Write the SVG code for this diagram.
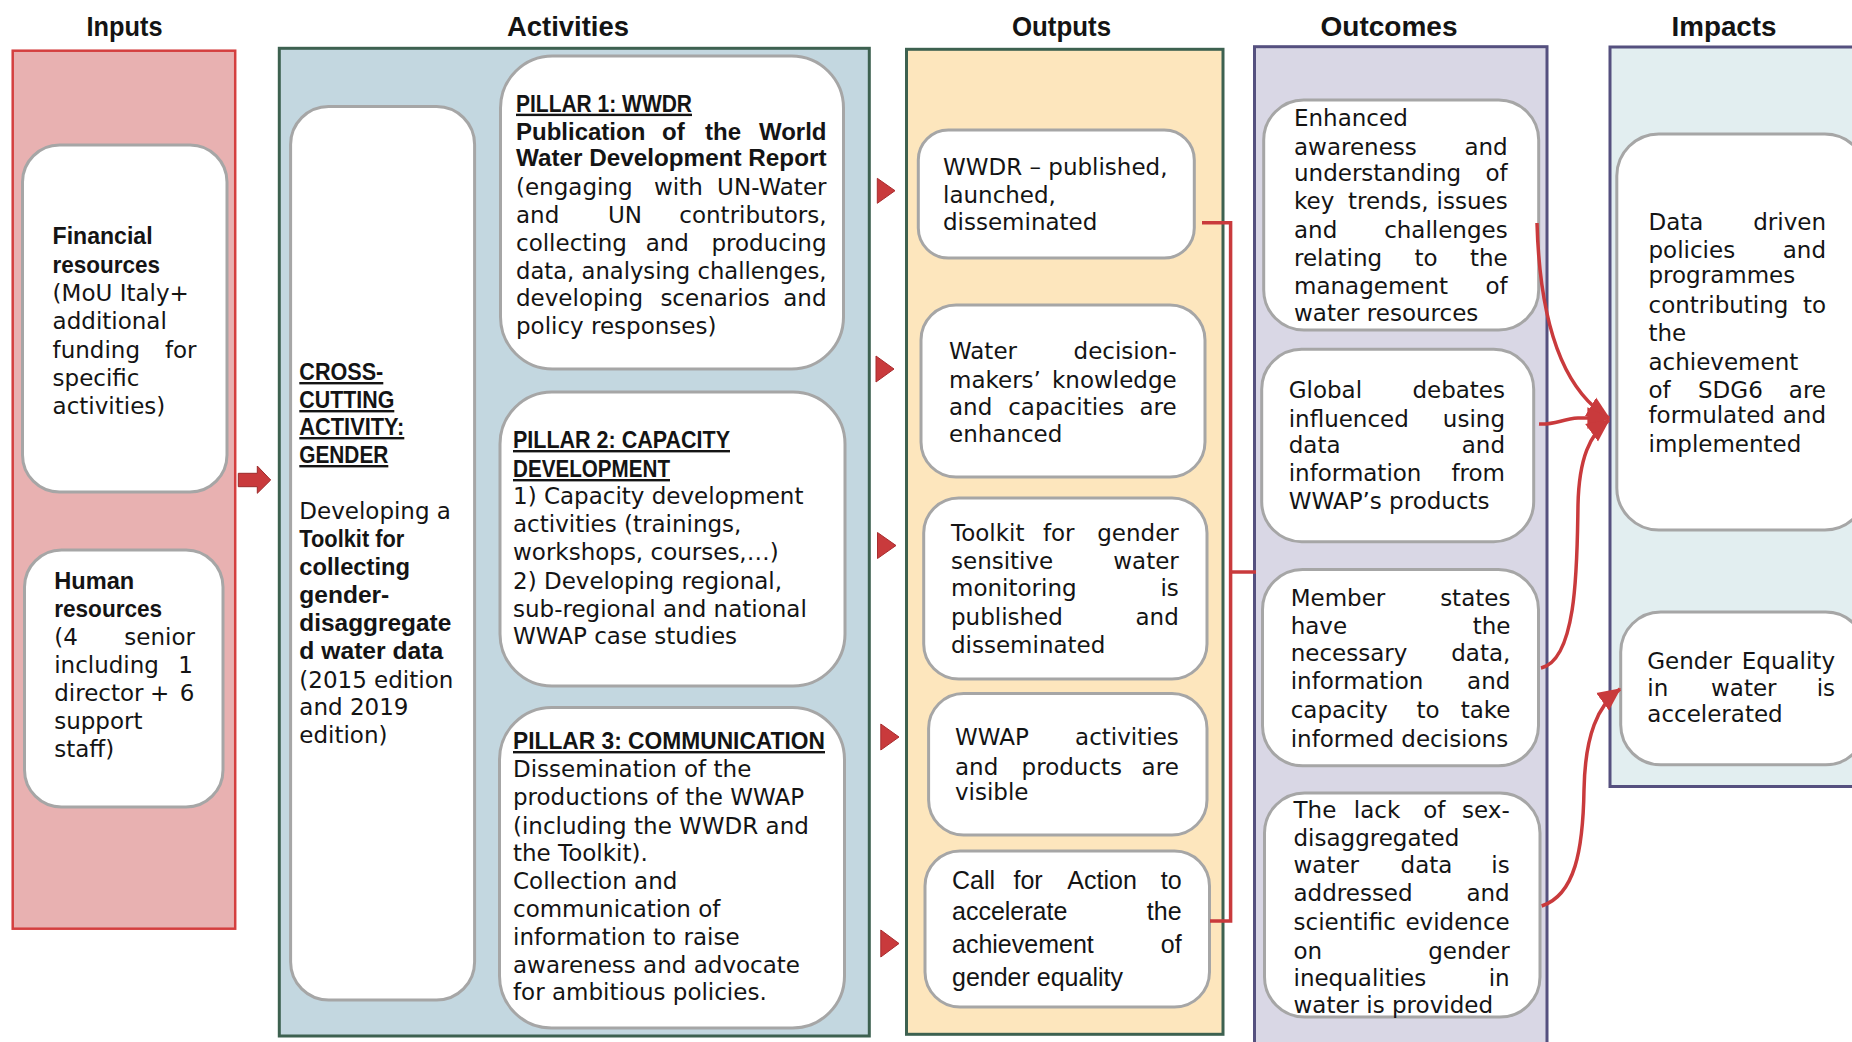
<svg xmlns="http://www.w3.org/2000/svg" width="1852" height="1042" viewBox="0 0 1852 1042">
<defs>
<style>
.r{font-family:'DejaVu Sans','Liberation Sans',sans-serif;font-size:23px;fill:#141414}
.b{font-family:'Liberation Sans',Arial,sans-serif;font-weight:bold;font-size:24px;fill:#141414}
.u{text-decoration:underline}
.e{text-anchor:end}
.t{font-family:'Liberation Sans',Arial,sans-serif;font-weight:bold;font-size:27px;fill:#141414;text-anchor:middle}
.g{font-family:'Liberation Sans',Arial,sans-serif;font-size:25px;fill:#141414}
.box{fill:#fff;stroke:#a6a6a6;stroke-width:3}
.conn{fill:none;stroke:#c93a3c;stroke-width:3.5}
.tri{fill:#c93a3c;stroke:#a82c2e;stroke-width:1}
</style>
<marker id="ah" markerUnits="userSpaceOnUse" markerWidth="24" markerHeight="24" viewBox="0 0 20 20" refX="18" refY="10" orient="auto">
<path d="M0,1 L19,10 L0,19 Z" fill="#c93a3c"/>
</marker>
</defs>
<rect width="1852" height="1042" fill="#fff"/>

<!-- column titles -->
<g id="titles">
<text class="t" x="124.5" y="36" textLength="76" lengthAdjust="spacingAndGlyphs">Inputs</text>
<text class="t" x="568" y="36" textLength="122" lengthAdjust="spacingAndGlyphs">Activities</text>
<text class="t" x="1061.5" y="36" textLength="99" lengthAdjust="spacingAndGlyphs">Outputs</text>
<text class="t" x="1389" y="36" textLength="137" lengthAdjust="spacingAndGlyphs">Outcomes</text>
<text class="t" x="1724" y="36" textLength="105" lengthAdjust="spacingAndGlyphs">Impacts</text>
</g>

<!-- column panels -->
<g id="columns">
<rect id="col-inputs" x="12.7" y="50.7" width="222.5" height="878" fill="#e8b1b1" stroke="#d43f3f" stroke-width="2.5"/>
<rect id="col-activities" x="279.3" y="48.3" width="590" height="987.7" fill="#c3d7e0" stroke="#3d6150" stroke-width="3"/>
<rect id="col-outputs" x="906.5" y="49.3" width="316.5" height="985" fill="#fde6bd" stroke="#3d6150" stroke-width="3"/>
<rect id="col-outcomes" x="1254.5" y="46.7" width="292.5" height="1010" fill="#d9d7e5" stroke="#55507f" stroke-width="3"/>
<rect id="col-impacts" x="1610" y="47" width="270" height="739.5" fill="#e2eef0" stroke="#55507f" stroke-width="3"/>
</g>

<!-- Inputs -->
<g id="financial">
<rect class="box" x="22.5" y="145" width="204.5" height="347" rx="37"/>
<text class="b" x="52.6" y="244" textLength="100" lengthAdjust="spacingAndGlyphs">Financial</text>
<text class="b" x="52.6" y="272.5" textLength="107.5" lengthAdjust="spacingAndGlyphs">resources</text>
<text class="r" x="52.6" y="301">(MoU Italy+</text>
<text class="r" x="52.6" y="329">additional</text>
<text class="r" x="52.6" y="357.5">funding</text><text class="r e" x="196.5" y="357.5">for</text>
<text class="r" x="52.6" y="386">specific</text>
<text class="r" x="52.6" y="414">activities)</text>
</g>
<g id="human">
<rect class="box" x="24.5" y="550" width="198.5" height="257" rx="37"/>
<text class="b" x="54.2" y="589" textLength="80" lengthAdjust="spacingAndGlyphs">Human</text>
<text class="b" x="54.2" y="617" textLength="108" lengthAdjust="spacingAndGlyphs">resources</text>
<text class="r" x="54.2" y="645">(4</text><text class="r e" x="195" y="645">senior</text>
<text class="r" x="54.2" y="673">including</text><text class="r e" x="193" y="673">1</text>
<text class="r" x="54.2" y="701">director</text><text class="r" x="150" y="701">+</text><text class="r e" x="194.5" y="701">6</text>
<text class="r" x="54.2" y="729">support</text>
<text class="r" x="54.2" y="757">staff)</text>
</g>

<!-- Activities -->
<g id="cross-cutting">
<rect class="box" x="290.6" y="106.5" width="184" height="893.5" rx="38"/>
<text class="b u" x="299.3" y="380" textLength="84" lengthAdjust="spacingAndGlyphs">CROSS-</text>
<text class="b u" x="299.3" y="408" textLength="95" lengthAdjust="spacingAndGlyphs">CUTTING</text>
<text class="b u" x="299.3" y="435" textLength="105" lengthAdjust="spacingAndGlyphs">ACTIVITY:</text>
<text class="b u" x="299.3" y="463" textLength="89" lengthAdjust="spacingAndGlyphs">GENDER</text>
<text class="r" x="299.3" y="519">Developing a</text>
<text class="b" x="299.3" y="547" textLength="105" lengthAdjust="spacingAndGlyphs">Toolkit for</text>
<text class="b" x="299.3" y="575" textLength="110.7" lengthAdjust="spacingAndGlyphs">collecting</text>
<text class="b" x="299.3" y="603" textLength="90" lengthAdjust="spacingAndGlyphs">gender-</text>
<text class="b" x="299.3" y="631" textLength="152" lengthAdjust="spacingAndGlyphs">disaggregate</text>
<text class="b" x="299.3" y="659" textLength="144" lengthAdjust="spacingAndGlyphs">d water data</text>
<text class="r" x="299.3" y="688">(2015 edition</text>
<text class="r" x="299.3" y="715">and 2019</text>
<text class="r" x="299.3" y="743">edition)</text>
</g>
<g id="pillar1">
<rect class="box" x="500.5" y="56" width="343" height="313" rx="52"/>
<text class="b u" x="516" y="111.7" textLength="176" lengthAdjust="spacingAndGlyphs">PILLAR 1: WWDR</text>
<text class="b" x="516" y="139.5">Publication</text><text class="b" x="662" y="139.5">of</text><text class="b" x="705" y="139.5">the</text><text class="b e" x="826.5" y="139.5">World</text>
<text class="b" x="516" y="166" textLength="310.5" lengthAdjust="spacingAndGlyphs">Water Development Report</text>
<text class="r" x="516" y="195">(engaging</text><text class="r" x="654" y="195">with</text><text class="r e" x="826.5" y="195">UN-Water</text>
<text class="r" x="516" y="223">and</text><text class="r" x="608" y="223">UN</text><text class="r e" x="826.5" y="223">contributors,</text>
<text class="r" x="516" y="251">collecting</text><text class="r" x="645.7" y="251">and</text><text class="r e" x="826.5" y="251">producing</text>
<text class="r" x="516" y="278.5" textLength="310.5" lengthAdjust="spacingAndGlyphs">data, analysing challenges,</text>
<text class="r" x="516" y="306">developing</text><text class="r" x="660.4" y="306">scenarios</text><text class="r e" x="826.5" y="306">and</text>
<text class="r" x="516" y="333.5">policy responses)</text>
</g>
<g id="pillar2">
<rect class="box" x="500" y="392" width="345" height="294" rx="52"/>
<text class="b u" x="513" y="448" textLength="217" lengthAdjust="spacingAndGlyphs">PILLAR 2: CAPACITY</text>
<text class="b u" x="513" y="477" textLength="157" lengthAdjust="spacingAndGlyphs">DEVELOPMENT</text>
<text class="r" x="513" y="504">1) Capacity development</text>
<text class="r" x="513" y="532">activities (trainings,</text>
<text class="r" x="513" y="559.5">workshops, courses,…)</text>
<text class="r" x="513" y="589">2) Developing regional,</text>
<text class="r" x="513" y="617">sub-regional and national</text>
<text class="r" x="513" y="643.5">WWAP case studies</text>
</g>
<g id="pillar3">
<rect class="box" x="499.5" y="707.5" width="345" height="320.5" rx="52"/>
<text class="b u" x="513" y="749" textLength="312" lengthAdjust="spacingAndGlyphs">PILLAR 3: COMMUNICATION</text>
<text class="r" x="513" y="777">Dissemination of the</text>
<text class="r" x="513" y="805">productions of the WWAP</text>
<text class="r" x="513" y="833.5">(including the WWDR and</text>
<text class="r" x="513" y="861">the Toolkit).</text>
<text class="r" x="513" y="889">Collection and</text>
<text class="r" x="513" y="917">communication of</text>
<text class="r" x="513" y="944.5">information to raise</text>
<text class="r" x="513" y="972.5">awareness and advocate</text>
<text class="r" x="513" y="1000">for ambitious policies.</text>
</g>

<!-- Outputs -->
<g id="out-wwdr">
<rect class="box" x="918.3" y="130" width="276" height="128" rx="30"/>
<text class="r" x="943" y="175">WWDR – published,</text>
<text class="r" x="943" y="203">launched,</text>
<text class="r" x="943" y="230">disseminated</text>
</g>
<g id="out-decision">
<rect class="box" x="921" y="305" width="284" height="172" rx="35"/>
<text class="r" x="949" y="359">Water</text><text class="r e" x="1176.7" y="359">decision-</text>
<text class="r" x="949" y="388">makers’</text><text class="r e" x="1176.7" y="388">knowledge</text>
<text class="r" x="949" y="415">and</text><text class="r" x="1008.2" y="415">capacities</text><text class="r e" x="1176.7" y="415">are</text>
<text class="r" x="949" y="441.7">enhanced</text>
</g>
<g id="out-toolkit">
<rect class="box" x="923.7" y="498" width="283.3" height="181" rx="35"/>
<text class="r" x="951" y="541">Toolkit</text><text class="r" x="1042.9" y="541">for</text><text class="r e" x="1178.8" y="541">gender</text>
<text class="r" x="951" y="569">sensitive</text><text class="r e" x="1178.8" y="569">water</text>
<text class="r" x="951" y="596">monitoring</text><text class="r e" x="1178.8" y="596">is</text>
<text class="r" x="951" y="624.5">published</text><text class="r e" x="1178.8" y="624.5">and</text>
<text class="r" x="951" y="653">disseminated</text>
</g>
<g id="out-visible">
<rect class="box" x="928.6" y="693.5" width="278.4" height="141.5" rx="35"/>
<text class="r" x="955" y="745">WWAP</text><text class="r e" x="1178.8" y="745">activities</text>
<text class="r" x="955" y="774.5">and</text><text class="r" x="1021.6" y="774.5">products</text><text class="r e" x="1178.8" y="774.5">are</text>
<text class="r" x="955" y="799.5">visible</text>
</g>
<g id="out-call">
<rect class="box" x="925" y="851" width="284.5" height="156" rx="35"/>
<text class="g" x="952" y="889">Call</text><text class="g" x="1013.5" y="889">for</text><text class="g" x="1067.3" y="889">Action</text><text class="g e" x="1181.6" y="889">to</text>
<text class="g" x="952" y="920.4">accelerate</text><text class="g e" x="1181.6" y="920.4">the</text>
<text class="g" x="952" y="953.4">achievement</text><text class="g e" x="1181.6" y="953.4">of</text>
<text class="g" x="952" y="986.4">gender equality</text>
</g>

<!-- Outcomes -->
<g id="oc-awareness">
<rect class="box" x="1263.7" y="100" width="275" height="230" rx="40"/>
<text class="r" x="1294" y="126">Enhanced</text>
<text class="r" x="1294" y="154.5">awareness</text><text class="r e" x="1507.7" y="154.5">and</text>
<text class="r" x="1294" y="181">understanding</text><text class="r e" x="1507.7" y="181">of</text>
<text class="r" x="1294" y="209">key</text><text class="r" x="1348" y="209">trends,</text><text class="r e" x="1507.7" y="209">issues</text>
<text class="r" x="1294" y="237.5">and</text><text class="r e" x="1507.7" y="237.5">challenges</text>
<text class="r" x="1294" y="265.5">relating</text><text class="r" x="1414.5" y="265.5">to</text><text class="r e" x="1507.7" y="265.5">the</text>
<text class="r" x="1294" y="294">management</text><text class="r e" x="1507.7" y="294">of</text>
<text class="r" x="1294" y="321">water resources</text>
</g>
<g id="oc-debates">
<rect class="box" x="1261.7" y="349.3" width="272" height="192.4" rx="40"/>
<text class="r" x="1288.7" y="397.7">Global</text><text class="r e" x="1505" y="397.7">debates</text>
<text class="r" x="1288.7" y="426.7">influenced</text><text class="r e" x="1505" y="426.7">using</text>
<text class="r" x="1288.7" y="452.7">data</text><text class="r e" x="1505" y="452.7">and</text>
<text class="r" x="1288.7" y="481">information</text><text class="r e" x="1505" y="481">from</text>
<text class="r" x="1288.7" y="509">WWAP’s products</text>
</g>
<g id="oc-member">
<rect class="box" x="1262.5" y="569.5" width="276" height="196.3" rx="40"/>
<text class="r" x="1290.7" y="606">Member</text><text class="r e" x="1510.4" y="606">states</text>
<text class="r" x="1290.7" y="634">have</text><text class="r e" x="1510.4" y="634">the</text>
<text class="r" x="1290.7" y="661">necessary</text><text class="r e" x="1510.4" y="661">data,</text>
<text class="r" x="1290.7" y="689.4">information</text><text class="r e" x="1510.4" y="689.4">and</text>
<text class="r" x="1290.7" y="718.2">capacity</text><text class="r" x="1416.4" y="718.2">to</text><text class="r e" x="1510.4" y="718.2">take</text>
<text class="r" x="1290.7" y="746.7">informed decisions</text>
</g>
<g id="oc-lack">
<rect class="box" x="1264.5" y="793" width="275.5" height="224" rx="40"/>
<text class="r" x="1293.5" y="818">The</text><text class="r" x="1353.8" y="818">lack</text><text class="r" x="1423.2" y="818">of</text><text class="r e" x="1509.7" y="818">sex-</text>
<text class="r" x="1293.5" y="845.7">disaggregated</text>
<text class="r" x="1293.5" y="872.5">water</text><text class="r" x="1400.6" y="872.5">data</text><text class="r e" x="1509.7" y="872.5">is</text>
<text class="r" x="1293.5" y="901.3">addressed</text><text class="r e" x="1509.7" y="901.3">and</text>
<text class="r" x="1293.5" y="930">scientific</text><text class="r e" x="1509.7" y="930">evidence</text>
<text class="r" x="1293.5" y="959.3">on</text><text class="r e" x="1509.7" y="959.3">gender</text>
<text class="r" x="1293.5" y="986.4">inequalities</text><text class="r e" x="1509.7" y="986.4">in</text>
<text class="r" x="1293.5" y="1012.5">water is provided</text>
</g>

<!-- Impacts -->
<g id="im-policies">
<rect class="box" x="1616.8" y="134" width="250" height="396" rx="42"/>
<text class="r" x="1648.5" y="230">Data</text><text class="r e" x="1826" y="230">driven</text>
<text class="r" x="1648.5" y="258">policies</text><text class="r e" x="1826" y="258">and</text>
<text class="r" x="1648.5" y="283.3">programmes</text>
<text class="r" x="1648.5" y="313.3">contributing</text><text class="r e" x="1826" y="313.3">to</text>
<text class="r" x="1648.5" y="340.7">the</text>
<text class="r" x="1648.5" y="370">achievement</text>
<text class="r" x="1648.5" y="398.3">of</text><text class="r" x="1698" y="398.3">SDG6</text><text class="r e" x="1826" y="398.3">are</text>
<text class="r" x="1648.5" y="423.3">formulated</text><text class="r e" x="1826" y="423.3">and</text>
<text class="r" x="1648.5" y="451.7">implemented</text>
</g>
<g id="im-gender">
<rect class="box" x="1620.7" y="612" width="245" height="152.8" rx="40"/>
<text class="r" x="1647.3" y="668.5">Gender</text><text class="r e" x="1835" y="668.5">Equality</text>
<text class="r" x="1647.3" y="696.3">in</text><text class="r" x="1711" y="696.3">water</text><text class="r e" x="1835" y="696.3">is</text>
<text class="r" x="1647.3" y="721.7">accelerated</text>
</g>

<!-- connectors -->
<g id="connectors">
<polygon points="238.3,473.3 257.3,473.3 257.3,466 270.7,480 257.3,493.3 257.3,486.7 238.3,486.7" fill="#c93a3c" stroke="#9b2a2a" stroke-width="1"/>
<polygon class="tri" points="877.3,178.3 895,190.7 877.3,203.3"/>
<polygon class="tri" points="876,356 894,369 876,382"/>
<polygon class="tri" points="877.5,532.5 896,545.5 877.5,558.5"/>
<polygon class="tri" points="880.8,724 899,737 880.8,750"/>
<polygon class="tri" points="880.8,930 899,943.5 880.8,957"/>
<polyline class="conn" points="1202,222.7 1230.6,222.7 1230.6,921 1210,921"/>
<line class="conn" x1="1230.6" y1="572" x2="1256" y2="572"/>
<path class="conn" d="M1537,223 C1540,330 1566,392 1609,418" marker-end="url(#ah)"/>
<path class="conn" d="M1539,424 C1555,425 1562,419 1578,418 L1609,418" marker-end="url(#ah)"/>
<path class="conn" d="M1541,668 C1578,660 1577,560 1578,505 C1579,458 1590,434 1609,420" marker-end="url(#ah)"/>
<path class="conn" d="M1541.7,906 C1575,895 1583,850 1584,790 C1585,735 1598,705 1620,689" marker-end="url(#ah)"/>
</g>
</svg>
